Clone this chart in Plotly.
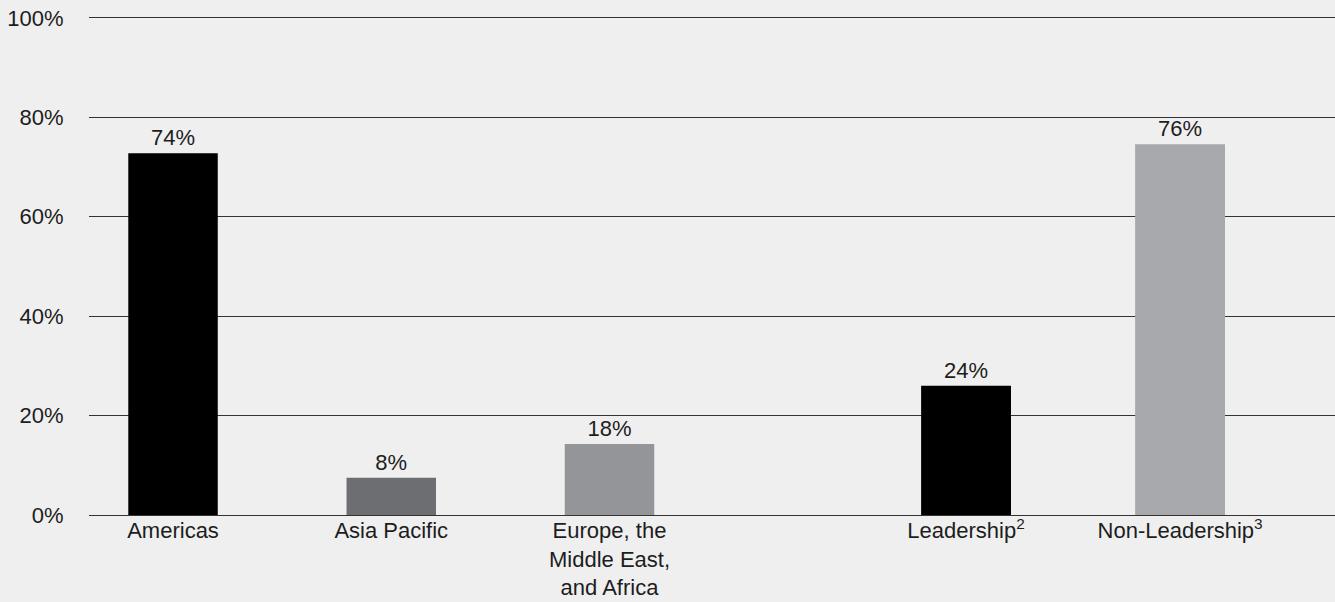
import plotly.graph_objects as go

# ---- data ----
region_categories = ["Americas", "Asia Pacific", "Europe, the<br>Middle East,<br>and Africa"]
region_values = [72.8, 7.5, 14.3]
region_labels = ["74%", "8%", "18%"]

role_categories = ["Leadership<sup>2</sup>", "Non-Leadership<sup>3</sup>"]
role_values = [26.0, 74.6]
role_labels = ["24%", "76%"]

y_tick_values = [0, 20, 40, 60, 80, 100]
y_tick_labels = ["0%", "20%", "40%", "60%", "80%", "100%"]

# ---- styles ----
region_colors = ["#000000", "#6d6e71", "#939598"]
role_colors = ["#000000", "#a7a9ac"]
BG = "#efefef"
TEXT = "#1d1d1d"
GRID = "#333333"
FONT = "Liberation Sans, Arial, sans-serif"

fig = go.Figure()
fig.add_trace(go.Bar(
    x=region_categories, y=region_values, text=region_labels,
    textposition="outside", constraintext="none", cliponaxis=False,
    textfont=dict(size=22, color=TEXT, family=FONT),
    marker=dict(color=region_colors, line=dict(width=0)),
    width=0.41, xaxis="x", yaxis="y", hoverinfo="skip", showlegend=False,
))
fig.add_trace(go.Bar(
    x=role_categories, y=role_values, text=role_labels,
    textposition="outside", constraintext="none", cliponaxis=False,
    textfont=dict(size=22, color=TEXT, family=FONT),
    marker=dict(color=role_colors, line=dict(width=0)),
    width=0.42, xaxis="x2", yaxis="y2", hoverinfo="skip", showlegend=False,
))

split = 0.561
xcommon = dict(type="category", showgrid=False, zeroline=False, showline=False,
               ticks="", automargin=False,
               tickfont=dict(size=22, color=TEXT, family=FONT), fixedrange=True)
ycommon = dict(range=[0, 101], tickvals=y_tick_values, ticktext=y_tick_labels,
               showgrid=True, gridcolor=GRID, gridwidth=1,
               zeroline=True, zerolinecolor=GRID, zerolinewidth=1,
               showline=False, fixedrange=True, automargin=False)

fig.update_layout(
    width=1335, height=602,
    margin=dict(l=89, r=0, t=13, b=87),
    paper_bgcolor=BG, plot_bgcolor=BG,
    font=dict(family=FONT, size=22, color=TEXT),
    xaxis=dict(domain=[0, split], range=[-0.385, 2.818], anchor="y", **xcommon),
    xaxis2=dict(domain=[split, 1], range=[-0.832, 1.724], anchor="y2", **xcommon),
    yaxis=dict(anchor="x", ticks="outside", ticklen=20, tickcolor="rgba(0,0,0,0)",
               tickfont=dict(size=22, color=TEXT, family=FONT), **ycommon),
    yaxis2=dict(anchor="x2", matches="y", showticklabels=False, ticks="", **ycommon),
)

fig.write_html(
    "out.html",
    config={"displayModeBar": False},
    post_script="document.body.style.margin='0';document.body.style.background='#efefef';",
)
